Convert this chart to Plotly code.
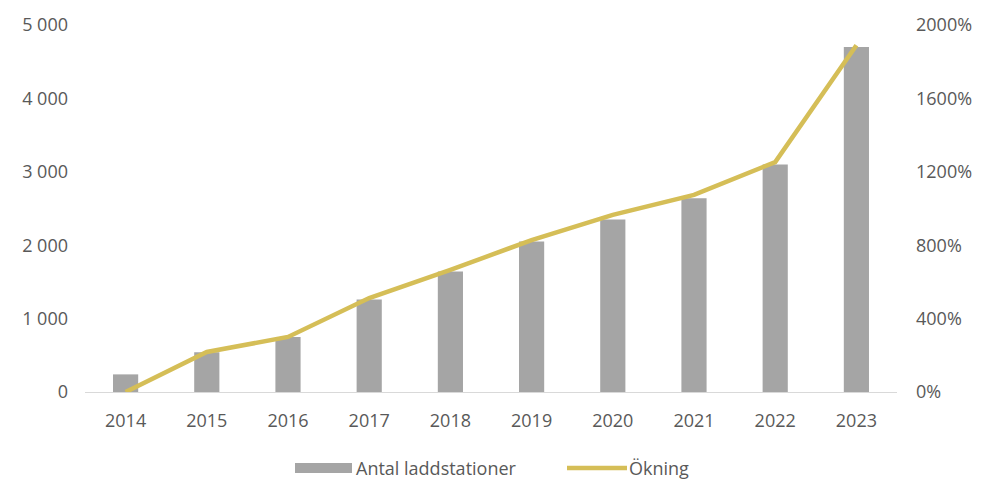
import plotly.graph_objects as go

# Laddstationer per år och procentuell ökning
years = ["2014", "2015", "2016", "2017", "2018", "2019", "2020", "2021", "2022", "2023"]
stations = [240, 540, 750, 1260, 1640, 2050, 2350, 2640, 3100, 4700]
increase_pct = [0, 218, 300, 512, 665, 828, 965, 1074, 1253, 1890]

left_ticks = [0, 1000, 2000, 3000, 4000, 5000]
left_labels = [f"{v:,}".replace(",", " ") for v in left_ticks]
right_ticks = [0, 400, 800, 1200, 1600, 2000]
right_labels = [f"{v}%" for v in right_ticks]

bar_color = "#A5A5A5"
line_color = "#D5BE57"
text_color = "#595959"
font_family = "Open Sans, Lato, sans-serif"
fs = 18

fig = go.Figure()
fig.add_trace(go.Bar(
    x=years, y=stations, name="Antal laddstationer",
    marker=dict(color=bar_color, line=dict(width=0)),
    showlegend=False,
))
fig.add_trace(go.Scatter(
    x=years, y=increase_pct, name="Ökning", yaxis="y2",
    mode="lines", line=dict(color=line_color, width=4.5),
    showlegend=False,
))

fig.update_layout(
    width=986, height=483,
    margin=dict(l=85, r=89, t=25, b=91),
    paper_bgcolor="white", plot_bgcolor="white",
    font=dict(family=font_family, size=fs, color=text_color),
    bargap=0.69,
    xaxis=dict(
        type="category", showgrid=False, zeroline=False,
        showline=True, linecolor="#D9D9D9", linewidth=1,
        ticks="", ticklabelstandoff=12,
        tickfont=dict(size=fs, color=text_color),
    ),
    yaxis=dict(
        range=[0, 5000], tickvals=left_ticks, ticktext=left_labels,
        showgrid=False, zeroline=False, showline=False, ticks="",
        ticklabelstandoff=16, tickfont=dict(size=fs, color=text_color),
    ),
    yaxis2=dict(
        range=[0, 2000], tickvals=right_ticks, ticktext=right_labels,
        overlaying="y", side="right", showgrid=False, zeroline=False,
        showline=False, ticks="", ticklabelstandoff=18,
        tickfont=dict(size=fs, color=text_color),
    ),
)

# Förklaring under diagrammet
def px_x(x):
    return (x - 85) / 812

def px_y(y):
    return (392 - y) / 367

legend_y = 468
fig.add_shape(type="rect", xref="paper", yref="paper",
              x0=px_x(295), x1=px_x(352),
              y0=px_y(legend_y - 5), y1=px_y(legend_y + 5),
              fillcolor=bar_color, line=dict(width=0))
fig.add_annotation(xref="paper", yref="paper",
                   x=px_x(354), y=px_y(legend_y),
                   text="Antal laddstationer", showarrow=False,
                   xanchor="left", yanchor="middle",
                   font=dict(size=fs, color=text_color))
fig.add_shape(type="line", xref="paper", yref="paper",
              x0=px_x(567), x1=px_x(627),
              y0=px_y(legend_y), y1=px_y(legend_y),
              line=dict(color=line_color, width=4.5))
fig.add_annotation(xref="paper", yref="paper",
                   x=px_x(627), y=px_y(legend_y),
                   text="Ökning", showarrow=False,
                   xanchor="left", yanchor="middle",
                   font=dict(size=fs, color=text_color))

fig.write_html("out.html")
